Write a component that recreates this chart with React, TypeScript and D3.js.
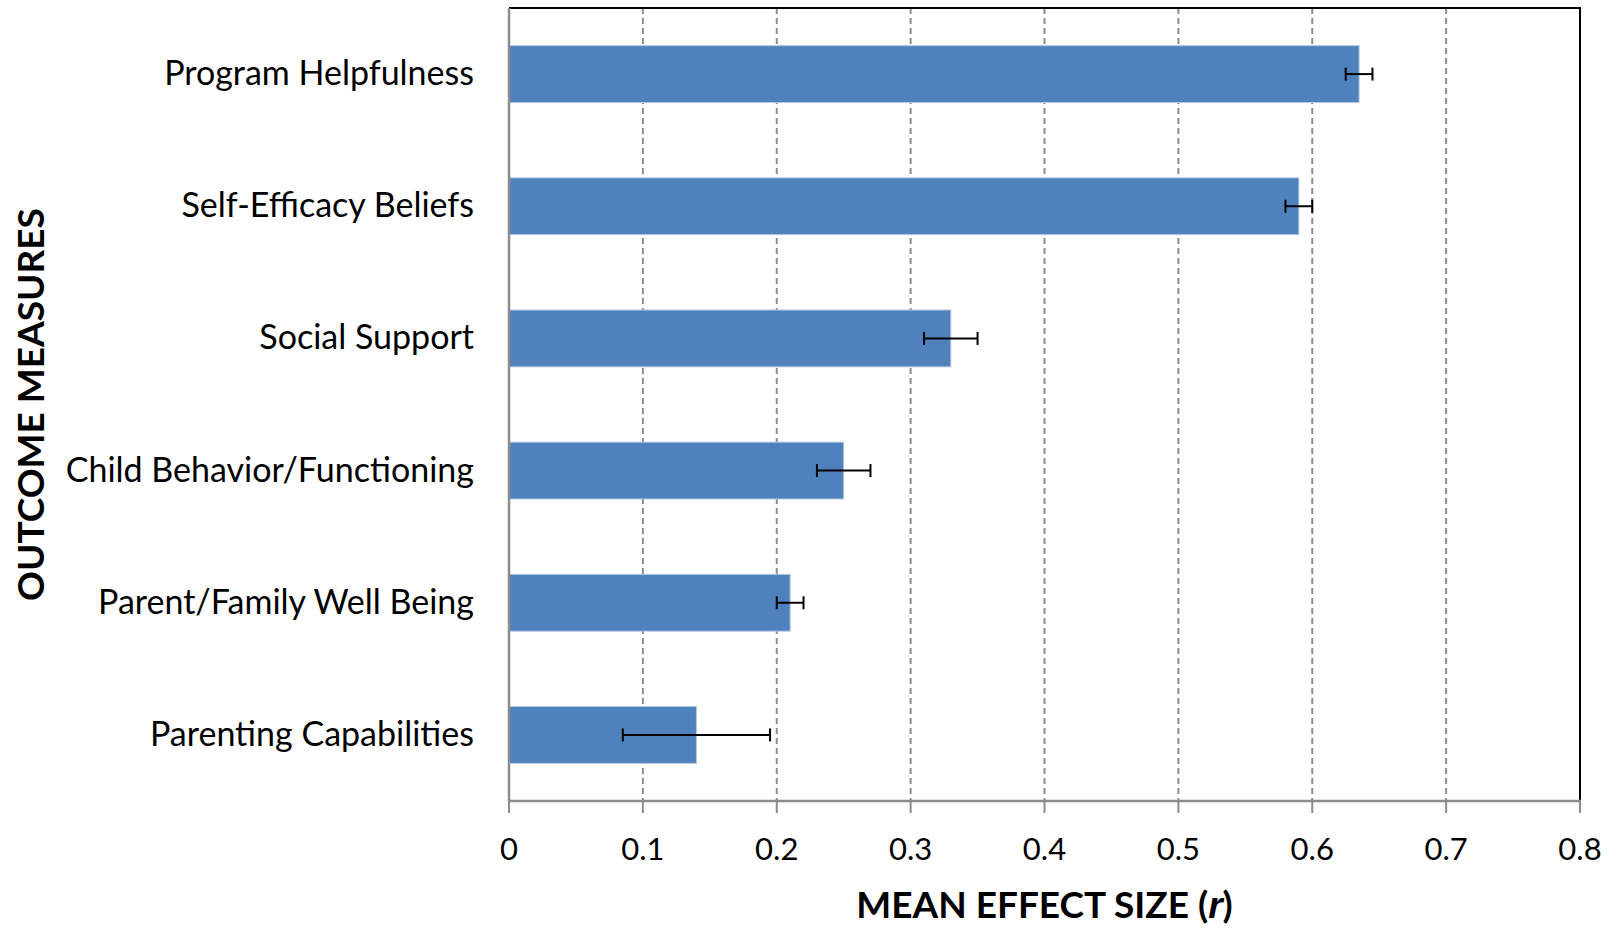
import React from "react";
import * as d3 from "d3";

const categories = [
  "Program Helpfulness",
  "Self-Efficacy Beliefs",
  "Social Support",
  "Child Behavior/Functioning",
  "Parent/Family Well Being",
  "Parenting Capabilities",
];
const meanValues = [0.635, 0.59, 0.33, 0.25, 0.21, 0.14];
const errLow = [0.625, 0.58, 0.31, 0.23, 0.2, 0.085];
const errHigh = [0.645, 0.6, 0.35, 0.27, 0.22, 0.195];
const xTicks = [0, 0.1, 0.2, 0.3, 0.4, 0.5, 0.6, 0.7, 0.8];
const xTickLabels = ["0", "0.1", "0.2", "0.3", "0.4", "0.5", "0.6", "0.7", "0.8"];

const W = 1619;
const H = 930;
const left = 509;
const right = 1580;
const top = 8;
const bottom = 801;
const FONT = "Lato, 'Open Sans', sans-serif";

export default function App() {
  const x = d3.scaleLinear().domain([0, 0.8]).range([left, right]);
  const y = d3
    .scaleBand<string>()
    .domain(categories)
    .range([top, bottom])
    .paddingInner(0.57)
    .paddingOuter(0.285);
  const bw = y.bandwidth();
  const capH = 13;

  return (
    <svg
      width={W}
      height={H}
      style={{ position: "absolute", left: 0, top: 0, background: "#fff" }}
      fontFamily={FONT}
    >
      <rect x={0} y={0} width={W} height={H} fill="#fff" />
      {/* gridlines */}
      {xTicks.slice(1, -1).map((t) => (
        <line
          key={"g" + t}
          x1={x(t)}
          x2={x(t)}
          y1={top}
          y2={bottom}
          stroke="#8c8c8c"
          strokeWidth={2}
          strokeDasharray="6,4"
        />
      ))}
      {/* bars */}
      {categories.map((c, i) => (
        <rect
          key={c}
          x={x(0)}
          y={y(c)!}
          width={x(meanValues[i]) - x(0)}
          height={bw}
          fill="#4F81BD"
          stroke="#b4c8e2"
          strokeWidth={1}
        />
      ))}
      {/* error bars */}
      {categories.map((c, i) => {
        const cy = y(c)! + bw / 2;
        return (
          <g key={"e" + c} stroke="#000" strokeWidth={2}>
            <line x1={x(errLow[i])} x2={x(errHigh[i])} y1={cy} y2={cy} />
            <line x1={x(errLow[i])} x2={x(errLow[i])} y1={cy - capH / 2} y2={cy + capH / 2} />
            <line x1={x(errHigh[i])} x2={x(errHigh[i])} y1={cy - capH / 2} y2={cy + capH / 2} />
          </g>
        );
      })}
      {/* frame */}
      <line x1={left} x2={right + 1} y1={top} y2={top} stroke="#000" strokeWidth={2} />
      <line x1={right} x2={right} y1={top} y2={bottom} stroke="#000" strokeWidth={2} />
      <line x1={left} x2={left} y1={top} y2={bottom} stroke="#8c8c8c" strokeWidth={2.5} />
      <line x1={left - 1} x2={right + 1} y1={bottom} y2={bottom} stroke="#8c8c8c" strokeWidth={2.5} />
      {/* ticks */}
      {xTicks.map((t) => (
        <line key={"t" + t} x1={x(t)} x2={x(t)} y1={bottom} y2={bottom + 12} stroke="#8c8c8c" strokeWidth={2} />
      ))}
      {xTicks.map((t, i) => (
        <text key={"tl" + t} x={x(t)} y={860} textAnchor="middle" fontSize={31} fill="#000">
          {xTickLabels[i]}
        </text>
      ))}
      {/* category labels */}
      {categories.map((c) => (
        <text
          key={"l" + c}
          x={474}
          y={y(c)! + bw / 2 + 11}
          textAnchor="end"
          fontSize={34}
          fill="#000"
        >
          {c}
        </text>
      ))}
      {/* axis titles */}
      <text x={(left + right) / 2} y={918} textAnchor="middle" fontSize={37} fontWeight="bold" fill="#000">
        MEAN EFFECT SIZE (
        <tspan fontStyle="italic" fontFamily="'Liberation Sans', 'DejaVu Sans', sans-serif">r</tspan>)
      </text>
      <text
        transform={`translate(44, ${(top + bottom) / 2}) rotate(-90)`}
        textAnchor="middle"
        fontSize={37}
        fontWeight="bold"
        fill="#000"
      >
        OUTCOME MEASURES
      </text>
    </svg>
  );
}
